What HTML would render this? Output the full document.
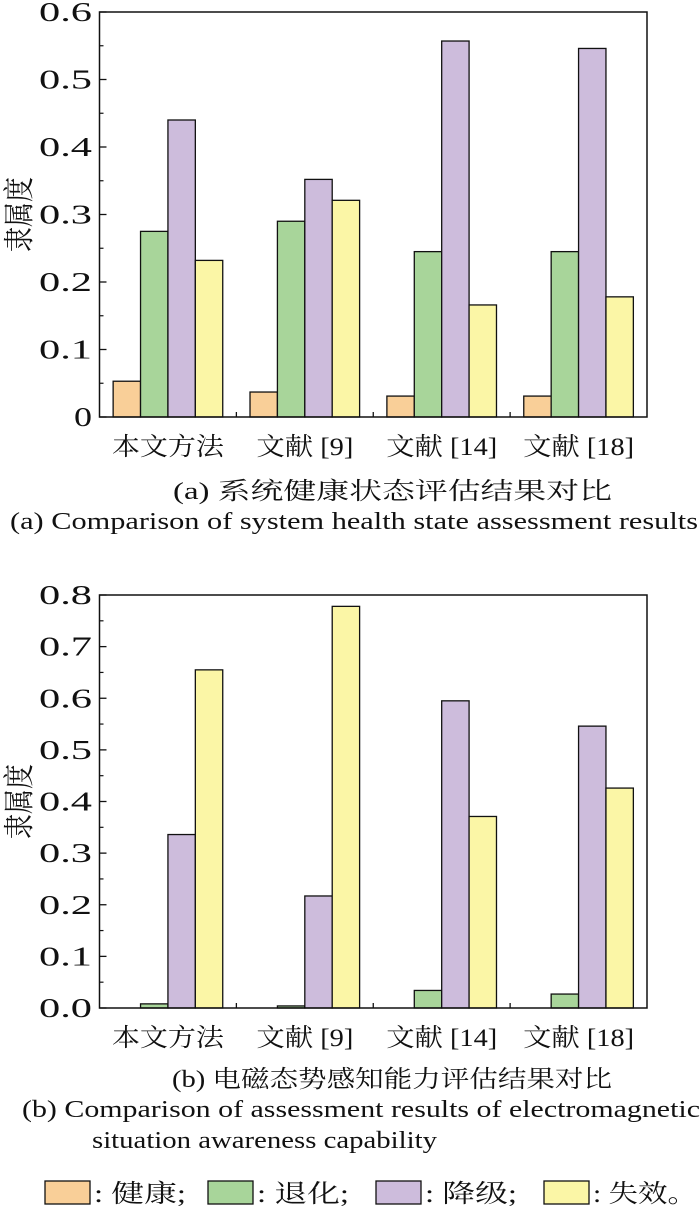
<!DOCTYPE html>
<html><head><meta charset="utf-8">
<style>
html,body{margin:0;padding:0;background:#fff;}
svg{display:block;}
text{font-family:"Liberation Serif","Noto Serif CJK SC","Noto Sans CJK SC",serif;fill:#111;}
</style></head>
<body>
<svg id="fig" width="700" height="1214" viewBox="0 0 700 1214" xmlns="http://www.w3.org/2000/svg">
<g id="chartA"></g>
<g id="chartB"></g>
<text x="173" y="499" font-size="24" textLength="439" lengthAdjust="spacingAndGlyphs">(a) 系统健康状态评估结果对比</text>
<text x="10" y="529" font-size="24" textLength="688" lengthAdjust="spacingAndGlyphs">(a) Comparison of system health state assessment results</text>
<text x="172" y="1087" font-size="24" textLength="440" lengthAdjust="spacingAndGlyphs">(b) 电磁态势感知能力评估结果对比</text>
<text x="22" y="1117" font-size="24" textLength="678" lengthAdjust="spacingAndGlyphs">(b) Comparison of assessment results of electromagnetic</text>
<text x="92" y="1148" font-size="24" textLength="345" lengthAdjust="spacingAndGlyphs">situation awareness capability</text>
<g id="legend"></g>
</svg>
<script>
const NS="http://www.w3.org/2000/svg";
const categories=["本文方法","文献 [9]","文献 [14]","文献 [18]"];
const seriesNames=["健康","退化","降级","失效"];
const seriesColors=["#f9cf98","#a8d59a","#cdbcdc","#fbf6a6"];
const healthA=[0.053,0.037,0.031,0.031];
const degradeA=[0.275,0.290,0.245,0.245];
const downgradeA=[0.440,0.352,0.557,0.546];
const failA=[0.232,0.321,0.166,0.178];
const ticksA=["0","0.1","0.2","0.3","0.4","0.5","0.6"];
const healthB=[0.0,0.0,0.0,0.0];
const degradeB=[0.008,0.004,0.034,0.027];
const downgradeB=[0.336,0.217,0.595,0.546];
const failB=[0.655,0.778,0.371,0.426];
const ticksB=["0.0","0.1","0.2","0.3","0.4","0.5","0.6","0.7","0.8"];

function mk(tag,attrs,parent){const e=document.createElementNS(NS,tag);for(const k in attrs)e.setAttribute(k,attrs[k]);parent.appendChild(e);return e;}

function drawChart(g,series,ticks,yMax,top,bottom,prefix){
  const left=99.5,right=647;
  const y=v=>bottom-(v/yMax)*(bottom-top);
  const gw=(right-left)/categories.length;
  const bw=27.4;
  const x=(ci,si)=>left+ci*gw+gw/2-2*bw+si*bw;
  series.forEach((arr,si)=>{
    arr.forEach((v,ci)=>{
      if(v<=0)return;
      const r=mk("rect",{x:x(ci,si),y:y(v),width:bw,height:bottom-y(v),fill:seriesColors[si],stroke:"#111","stroke-width":1.3},g);
      
      
    });
  });
  const frame=mk("rect",{x:left,y:top,width:right-left,height:bottom-top,fill:"none",stroke:"#111","stroke-width":1.5},g);
  
  
  const step=yMax/(ticks.length-1);
  ticks.forEach((t,i)=>{
    const ty=y(i*step);
    mk("line",{x1:left,x2:left+7,y1:ty,y2:ty,stroke:"#111","stroke-width":1.3},g);
    if(i<ticks.length-1){const my=y((i+0.5)*step);mk("line",{x1:left,x2:left+4,y1:my,y2:my,stroke:"#111","stroke-width":1.2},g);}
    const w=t.length===1?18:53;
    const tx=mk("text",{x:92-w,y:ty+9,"font-size":27,textLength:w,lengthAdjust:"spacingAndGlyphs"},g);
    tx.textContent=t;
    
    
  });
  categories.forEach((c,ci)=>{
    if(ci>0){const bx=left+ci*gw;mk("line",{x1:bx,x2:bx,y1:bottom,y2:bottom-5,stroke:"#111","stroke-width":1.3},g);}
    const w=ci===0?112:(ci===1?97:111);
    const tx=mk("text",{x:left+ci*gw+gw/2,y:bottom+38,"font-size":25,"text-anchor":"middle",textLength:w,lengthAdjust:"spacingAndGlyphs"},g);
    tx.textContent=c;
    
    
  });
  const cy=(top+bottom)/2;
  const yt=mk("text",{x:0,y:0,"font-size":25,"text-anchor":"middle",transform:"translate(30,"+cy+") rotate(-90) scale(1,1.25)"},g);
  yt.textContent="隶属度";
  
  
}
drawChart(document.getElementById("chartA"),[healthA,degradeA,downgradeA,failA],ticksA,0.6,12,417,"a");
drawChart(document.getElementById("chartB"),[healthB,degradeB,downgradeB,failB],ticksB,0.8,595,1008,"b");

const lg=document.getElementById("legend");
const lx=[45,208,376,544];
seriesNames.forEach((n,i)=>{
  const r=mk("rect",{x:lx[i],y:1181,width:45,height:23,fill:seriesColors[i],stroke:"#111","stroke-width":1.3},lg);
  
  
  const t=mk("text",{x:lx[i]+49,y:1202,"font-size":25,textLength:i===3?104:92,lengthAdjust:"spacingAndGlyphs"},lg);
  t.textContent=": "+n+(i===3?"。":";");
  
  
});
</script>
</body></html>
